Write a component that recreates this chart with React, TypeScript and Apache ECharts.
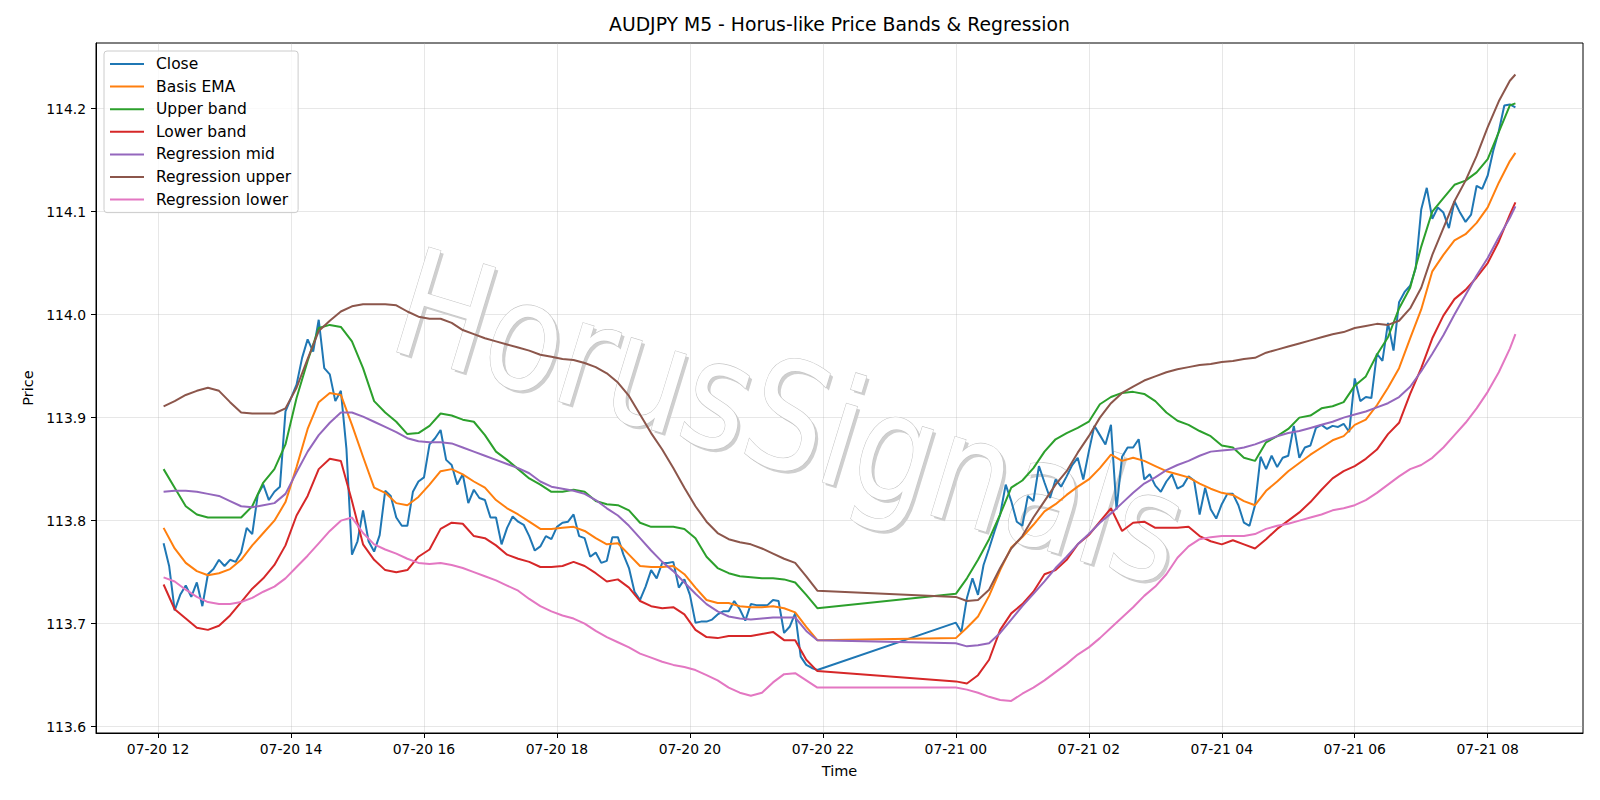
import React, { useEffect, useRef } from "react";
import * as echarts from "echarts";

// Time is expressed in minutes since 07-20 00:00.
// Trading sessions shown: 07-20 12:05 – 21:55 and 07-21 00:00 – 08:25 (M5 bars).
const SESSIONS: [number, number][] = [
  [725, 1315],
  [1440, 1945],
];

const X_TICKS = [720, 840, 960, 1080, 1200, 1320, 1440, 1560, 1680, 1800, 1920];
const X_TICK_LABELS = [
  "07-20 12", "07-20 14", "07-20 16", "07-20 18", "07-20 20", "07-20 22",
  "07-21 00", "07-21 02", "07-21 04", "07-21 06", "07-21 08",
];
const Y_TICKS = [113.6, 113.7, 113.8, 113.9, 114.0, 114.1, 114.2];

const TITLE = "AUDJPY M5 - Horus-like Price Bands & Regression";
const WATERMARK = "HorusSignals";
const SERIES_NAMES = [
  "Close", "Basis EMA", "Upper band", "Lower band",
  "Regression mid", "Regression upper", "Regression lower",
];
const COLORS = ["#1f77b4", "#ff7f0e", "#2ca02c", "#d62728", "#9467bd", "#8c564b", "#e377c2"];

// Close, every 5 minutes
const CLOSE_S1 = [
  113.778, 113.756, 113.713, 113.728, 113.737, 113.726, 113.740, 113.717, 113.748, 113.753,
  113.762, 113.756, 113.762, 113.760, 113.769, 113.793, 113.787, 113.825, 113.835, 113.820,
  113.828, 113.833, 113.906, 113.919, 113.932, 113.958, 113.976, 113.964, 113.995, 113.948,
  113.942, 113.916, 113.926, 113.870, 113.767, 113.780, 113.810, 113.780, 113.770, 113.786,
  113.829, 113.824, 113.803, 113.795, 113.795, 113.828, 113.838, 113.842, 113.874, 113.880,
  113.888, 113.859, 113.854, 113.835, 113.845, 113.817, 113.830, 113.822, 113.820, 113.803,
  113.803, 113.777, 113.793, 113.804, 113.799, 113.796, 113.785, 113.771, 113.775, 113.785,
  113.782, 113.794, 113.798, 113.799, 113.806, 113.785, 113.783, 113.765, 113.769, 113.759,
  113.761, 113.784, 113.784, 113.767, 113.754, 113.731, 113.723, 113.736, 113.752, 113.744,
  113.759, 113.759, 113.760, 113.735, 113.743, 113.728, 113.701, 113.702, 113.702, 113.704,
  113.709, 113.712, 113.712, 113.722, 113.714, 113.703, 113.719, 113.718, 113.718, 113.718,
  113.723, 113.722, 113.691, 113.697, 113.710, 113.668, 113.660, 113.657, 113.655,
];
const CLOSE_S2 = [
  113.701, 113.692, 113.725, 113.744, 113.728, 113.757, 113.773, 113.790, 113.806, 113.835,
  113.819, 113.799, 113.795, 113.824, 113.819, 113.853, 113.837, 113.822, 113.840, 113.833,
  113.843, 113.854, 113.861, 113.840, 113.867, 113.892, 113.883, 113.874, 113.893, 113.811,
  113.862, 113.871, 113.871, 113.879, 113.840, 113.845, 113.834, 113.828, 113.838, 113.845,
  113.831, 113.834, 113.843, 113.839, 113.806, 113.832, 113.811, 113.802, 113.816, 113.826,
  113.826, 113.815, 113.798, 113.795, 113.815, 113.862, 113.850, 113.863, 113.852, 113.861,
  113.863, 113.892, 113.861, 113.871, 113.873, 113.890, 113.893, 113.889, 113.892, 113.891,
  113.894, 113.886, 113.938, 113.916, 113.920, 113.919, 113.962, 113.955, 113.992, 113.965,
  114.012, 114.022, 114.028, 114.045, 114.102, 114.123, 114.093, 114.104, 114.099, 114.084,
  114.110, 114.099, 114.090, 114.097, 114.125, 114.122, 114.135, 114.159, 114.178, 114.203,
  114.204, 114.201,
];

// Smooth lines, read every 10 minutes (plus the last bar)
const BASIS_EMA = [
  113.793, 113.773, 113.759, 113.751, 113.747, 113.749, 113.753, 113.762, 113.776, 113.788,
  113.800, 113.818, 113.852, 113.889, 113.915, 113.924, 113.922, 113.893, 113.862, 113.832,
  113.827, 113.817, 113.815, 113.823, 113.835, 113.848, 113.850, 113.845, 113.838, 113.832,
  113.820, 113.812, 113.806, 113.799, 113.792, 113.792, 113.793, 113.794, 113.790, 113.783,
  113.777, 113.778, 113.767, 113.756, 113.755, 113.755, 113.756, 113.748, 113.735, 113.723,
  113.720, 113.720, 113.717, 113.716, 113.716, 113.717, 113.715, 113.711, 113.697, 113.684,
  113.686, 113.696, 113.707, 113.727, 113.752, 113.774, 113.784, 113.796, 113.809, 113.816,
  113.825, 113.833, 113.840, 113.851, 113.864, 113.858, 113.861, 113.858, 113.853, 113.848,
  113.845, 113.842, 113.836, 113.831, 113.827, 113.825, 113.819, 113.815, 113.829, 113.838,
  113.848, 113.856, 113.864, 113.871, 113.878, 113.882, 113.893, 113.898, 113.912, 113.929,
  113.948, 113.977, 114.005, 114.042, 114.058, 114.072, 114.078, 114.089, 114.104, 114.128,
  114.149, 114.157,
];
const UPPER_BAND = [
  113.850, 113.832, 113.814, 113.806, 113.803, 113.803, 113.803, 113.803, 113.814, 113.837,
  113.850, 113.874, 113.919, 113.955, 113.987, 113.990, 113.988, 113.974, 113.948, 113.916,
  113.905, 113.896, 113.884, 113.885, 113.892, 113.904, 113.902, 113.898, 113.896, 113.883,
  113.867, 113.859, 113.850, 113.841, 113.835, 113.828, 113.828, 113.830, 113.828, 113.819,
  113.816, 113.815, 113.810, 113.798, 113.794, 113.794, 113.794, 113.792, 113.783, 113.765,
  113.754, 113.749, 113.746, 113.745, 113.744, 113.744, 113.743, 113.740, 113.728, 113.715,
  113.729, 113.744, 113.762, 113.782, 113.806, 113.832, 113.839, 113.851, 113.867, 113.879,
  113.885, 113.890, 113.896, 113.913, 113.920, 113.924, 113.925, 113.923, 113.916, 113.905,
  113.897, 113.893, 113.887, 113.882, 113.873, 113.871, 113.861, 113.858, 113.876, 113.882,
  113.889, 113.900, 113.902, 113.909, 113.911, 113.915, 113.931, 113.940, 113.961, 113.978,
  114.006, 114.026, 114.066, 114.100, 114.113, 114.126, 114.130, 114.138, 114.151, 114.177,
  114.203, 114.205,
];
const LOWER_BAND = [
  113.738, 113.714, 113.705, 113.696, 113.694, 113.698, 113.708, 113.721, 113.734, 113.744,
  113.757, 113.776, 113.805, 113.824, 113.850, 113.860, 113.858, 113.819, 113.777, 113.762,
  113.752, 113.750, 113.752, 113.765, 113.772, 113.792, 113.798, 113.797, 113.785, 113.783,
  113.776, 113.767, 113.763, 113.760, 113.755, 113.755, 113.756, 113.760, 113.756, 113.749,
  113.741, 113.743, 113.735, 113.722, 113.717, 113.715, 113.716, 113.709, 113.694, 113.687,
  113.686, 113.688, 113.688, 113.688, 113.690, 113.692, 113.684, 113.684, 113.665, 113.654,
  113.644, 113.642, 113.650, 113.665, 113.694, 113.710, 113.719, 113.731, 113.748, 113.752,
  113.762, 113.777, 113.786, 113.799, 113.812, 113.790, 113.798, 113.799, 113.793, 113.793,
  113.793, 113.794, 113.785, 113.780, 113.777, 113.781, 113.777, 113.773, 113.782, 113.792,
  113.800, 113.808, 113.818, 113.830, 113.841, 113.848, 113.853, 113.860, 113.869, 113.884,
  113.895, 113.923, 113.948, 113.977, 113.999, 114.015, 114.024, 114.036, 114.050, 114.071,
  114.097, 114.109,
];
const REG_MID = [
  113.828, 113.829, 113.829, 113.828, 113.826, 113.824, 113.819, 113.814, 113.813, 113.815,
  113.817, 113.826, 113.847, 113.867, 113.883, 113.895, 113.905, 113.905, 113.901, 113.896,
  113.891, 113.886, 113.880, 113.877, 113.876, 113.876, 113.875, 113.871, 113.867, 113.863,
  113.859, 113.855, 113.851, 113.846, 113.838, 113.833, 113.831, 113.829, 113.826, 113.820,
  113.812, 113.805, 113.795, 113.783, 113.771, 113.760, 113.751, 113.740, 113.729, 113.719,
  113.712, 113.707, 113.705, 113.704, 113.705, 113.706, 113.706, 113.706, 113.693, 113.684,
  113.681, 113.678, 113.679, 113.681, 113.691, 113.704, 113.717, 113.729, 113.741, 113.754,
  113.765, 113.777, 113.787, 113.798, 113.807, 113.817, 113.827, 113.836, 113.842, 113.849,
  113.854, 113.858, 113.863, 113.867, 113.868, 113.869, 113.871, 113.874, 113.878, 113.882,
  113.885, 113.887, 113.890, 113.893, 113.896, 113.900, 113.903, 113.906, 113.910, 113.914,
  113.920, 113.930, 113.945, 113.962, 113.980, 114.000, 114.019, 114.038, 114.055, 114.075,
  114.094, 114.105,
];
const REG_UPPER = [
  113.911, 113.916, 113.922, 113.926, 113.929, 113.926, 113.915, 113.905, 113.904, 113.904,
  113.904, 113.909, 113.929, 113.957, 113.984, 113.994, 114.003, 114.008, 114.010, 114.010,
  114.010, 114.009, 114.003, 113.998, 113.996, 113.996, 113.992, 113.985, 113.981, 113.977,
  113.974, 113.971, 113.968, 113.965, 113.961, 113.959, 113.957, 113.956, 113.953, 113.949,
  113.943, 113.934, 113.921, 113.903, 113.885, 113.869, 113.851, 113.832, 113.814, 113.799,
  113.788, 113.782, 113.779, 113.777, 113.773, 113.768, 113.763, 113.759, 113.746, 113.732,
  113.726, 113.722, 113.723, 113.733, 113.754, 113.773, 113.785, 113.803, 113.819, 113.835,
  113.848, 113.866, 113.882, 113.900, 113.914, 113.924, 113.930, 113.936, 113.940, 113.944,
  113.947, 113.949, 113.951, 113.952, 113.954, 113.955, 113.957, 113.958, 113.963, 113.966,
  113.969, 113.972, 113.975, 113.978, 113.981, 113.983, 113.987, 113.989, 113.991, 113.990,
  113.994, 114.006, 114.026, 114.058, 114.084, 114.110, 114.130, 114.154, 114.182, 114.207,
  114.227, 114.233,
];
const REG_LOWER = [
  113.745, 113.741, 113.733, 113.726, 113.721, 113.719, 113.719, 113.721, 113.725, 113.731,
  113.736, 113.744, 113.755, 113.766, 113.778, 113.790, 113.800, 113.803, 113.788, 113.777,
  113.772, 113.768, 113.763, 113.759, 113.758, 113.759, 113.757, 113.754, 113.750, 113.746,
  113.742, 113.737, 113.732, 113.724, 113.717, 113.712, 113.708, 113.705, 113.700, 113.693,
  113.687, 113.682, 113.677, 113.671, 113.667, 113.663, 113.660, 113.658, 113.655, 113.650,
  113.645, 113.638, 113.633, 113.630, 113.633, 113.643, 113.651, 113.652, 113.645, 113.638,
  113.638, 113.636, 113.633, 113.629, 113.626, 113.625, 113.632, 113.638, 113.645, 113.653,
  113.661, 113.670, 113.677, 113.686, 113.696, 113.706, 113.716, 113.727, 113.736, 113.748,
  113.764, 113.775, 113.782, 113.784, 113.785, 113.785, 113.785, 113.787, 113.792, 113.795,
  113.797, 113.800, 113.803, 113.806, 113.810, 113.812, 113.815, 113.820, 113.827, 113.835,
  113.843, 113.850, 113.854, 113.861, 113.871, 113.883, 113.895, 113.909, 113.925, 113.944,
  113.967, 113.981,
];

function range(a: number, b: number, step: number): number[] {
  const out: number[] = [];
  for (let t = a; t <= b; t += step) out.push(t);
  return out;
}

const closeTimes = SESSIONS.flatMap(([a, b]) => range(a, b, 5));
const smoothTimes = SESSIONS.flatMap(([a, b]) => {
  const t = range(a, b, 10);
  if (t[t.length - 1] !== b) t.push(b);
  return t;
});

const CLOSE = [...CLOSE_S1, ...CLOSE_S2];

function pair(times: number[], vals: number[]) {
  return times.map((t, i) => [t, vals[i]]);
}

const FONT = "DejaVu Sans";

export default function App() {
  const ref = useRef<HTMLDivElement>(null);

  useEffect(() => {
    if (!ref.current) return;
    const chart = echarts.init(ref.current, undefined, { renderer: "svg" });

    const seriesData = [
      pair(closeTimes, CLOSE),
      pair(smoothTimes, BASIS_EMA),
      pair(smoothTimes, UPPER_BAND),
      pair(smoothTimes, LOWER_BAND),
      pair(smoothTimes, REG_MID),
      pair(smoothTimes, REG_UPPER),
      pair(smoothTimes, REG_LOWER),
    ];

    const rot = (-17 * Math.PI) / 180;
    const wmFont = `125px "${FONT}"`;

    const option: any = {
      animation: false,
      backgroundColor: "#ffffff",
      textStyle: { fontFamily: FONT },
      title: {
        text: TITLE,
        left: 839.5,
        top: 15,
        textAlign: "center",
        padding: 0,
        textStyle: { fontSize: 18.8, fontWeight: "normal", color: "#000", fontFamily: FONT },
      },
      grid: {
        left: 96,
        right: 17,
        top: 43,
        bottom: 67,
        show: true,
        borderColor: "#000",
        borderWidth: 1,
        backgroundColor: "transparent",
      },
      legend: {
        orient: "vertical",
        left: 104,
        top: 51,
        itemWidth: 34,
        itemHeight: 14,
        itemGap: 6.6,
        padding: [5, 7, 5, 5],
        backgroundColor: "rgba(255,255,255,0.8)",
        borderColor: "#cccccc",
        borderWidth: 1,
        borderRadius: 3,
        itemStyle: { opacity: 0, borderWidth: 0 },
        lineStyle: { width: 2 },
        textStyle: {
          fontSize: 15.5,
          color: "#000",
          fontFamily: FONT,
          padding: [0, 0, 0, 7],
        },
        data: SERIES_NAMES,
      },
      xAxis: {
        type: "value",
        min: 664,
        max: 2006,
        minInterval: 120,
        maxInterval: 120,
        name: "Time",
        nameLocation: "middle",
        nameGap: 30,
        nameTextStyle: { fontSize: 14.5, color: "#000", fontFamily: FONT },
        axisLine: { show: true, onZero: false, lineStyle: { color: "#000", width: 1 } },
        axisTick: { show: true, length: 5, customValues: X_TICKS, lineStyle: { color: "#000", width: 1 } },
        axisLabel: {
          customValues: X_TICKS,
          fontSize: 13.9,
          color: "#000",
          fontFamily: FONT,
          margin: 9,
          formatter: (v: number) => {
            const i = X_TICKS.indexOf(Math.round(v));
            return i >= 0 ? X_TICK_LABELS[i] : "";
          },
        },
        splitLine: { show: true, lineStyle: { color: "rgba(176,176,176,0.3)", width: 1 } },
      },
      yAxis: {
        type: "value",
        min: 113.5939,
        max: 114.2636,
        minInterval: 0.1,
        maxInterval: 0.1,
        name: "Price",
        nameLocation: "middle",
        nameGap: 58,
        nameRotate: 90,
        nameTextStyle: { fontSize: 14.5, color: "#000", fontFamily: FONT },
        axisLine: { show: true, onZero: false, lineStyle: { color: "#000", width: 1 } },
        axisTick: { show: true, length: 5, customValues: Y_TICKS, lineStyle: { color: "#000", width: 1 } },
        axisLabel: {
          customValues: Y_TICKS,
          fontSize: 13.9,
          color: "#000",
          fontFamily: FONT,
          margin: 10,
          formatter: (v: number) => v.toFixed(1),
        },
        splitLine: { show: true, lineStyle: { color: "rgba(176,176,176,0.3)", width: 1 } },
      },
      graphic: [
        {
          type: "text",
          x: 793,
          y: 421,
          rotation: rot,
          scaleY: 1.2,
          z: 1,
          silent: true,
          style: {
            text: WATERMARK,
            font: wmFont,
            fill: "#cfcfcf",
            align: "center",
            verticalAlign: "middle",
          },
        },
        {
          type: "text",
          x: 790,
          y: 418,
          rotation: rot,
          scaleY: 1.2,
          z: 1,
          silent: true,
          style: {
            text: WATERMARK,
            font: wmFont,
            fill: "#ffffff",
            stroke: "#c4c4c4",
            lineWidth: 1,
            align: "center",
            verticalAlign: "middle",
          },
        },
      ],
      series: SERIES_NAMES.map((name, i) => ({
        name,
        type: "line",
        data: seriesData[i],
        symbol: "none",
        showSymbol: false,
        z: 2,
        lineStyle: { width: 2, color: COLORS[i] },
        itemStyle: { color: COLORS[i] },
        emphasis: { disabled: true },
      })),
    };

    chart.setOption(option);
    return () => chart.dispose();
  }, []);

  return (
    <div
      ref={ref}
      style={{ position: "absolute", left: 0, top: 0, width: 1600, height: 800 }}
    />
  );
}
